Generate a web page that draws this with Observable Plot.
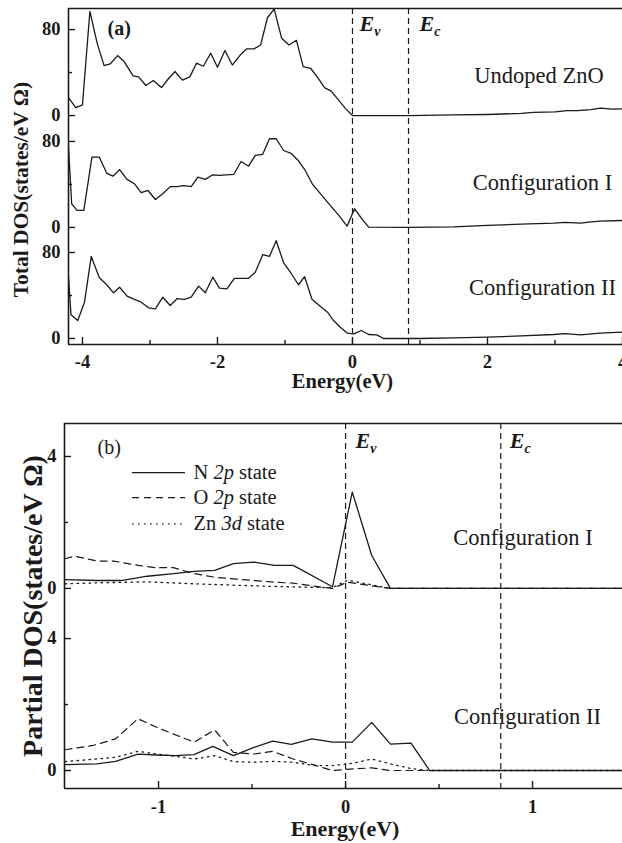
<!DOCTYPE html>
<html><head><meta charset="utf-8">
<script src="https://cdn.jsdelivr.net/npm/d3@7"></script>
<script src="https://cdn.jsdelivr.net/npm/@observablehq/plot@0.6"></script>
<style>
body{margin:0;background:#fff;}
#chart{width:622px;height:843px;position:relative;overflow:hidden;background:#fff;}
#chart svg{display:block;}
</style></head><body><div id="chart"></div>
<script>
// ---------- Panel (a): Total DOS ----------
const xTicksA = [-4, -2, 0, 2, 4];
const xTickLabelsA = ["-4", "-2", "0", "2", "4"];
const xMinorA = [-3, -1, 1, 3];
const curveNamesA = ["Undoped ZnO", "Configuration I", "Configuration II"];
const offsetsA = [207.4, 103.3, 0];
const yTickLabelsA = ["0", "80"];
const yTickValsA = [0, 80];
const yMinorValsA = [40];

const aX_undoped = [-4.21,-4.10,-4.00,-3.89,-3.78,-3.68,-3.59,-3.48,-3.38,-3.25,-3.17,-3.06,-2.95,-2.83,-2.73,-2.63,-2.52,-2.41,-2.31,-2.21,-2.10,-2.00,-1.89,-1.78,-1.67,-1.57,-1.46,-1.36,-1.26,-1.16,-1.05,-0.94,-0.83,-0.73,-0.62,-0.52,-0.41,-0.32,-0.22,-0.10,0.00,0.83,1.50,2.00,2.50,2.68,3.00,3.18,3.33,3.53,3.67,3.85,4.00];
const aY_undoped = [17,7.4,10,97,66.7,46.5,48,55.8,50,37,36,28,32.6,26,34,41,33,36,48.7,45.9,58,45,60.5,47,55.8,62,62,65.7,91,99,72,65.7,70,45.6,44,35.7,25.8,23,15.5,6.2,0,0,0.6,1,2,3,3.5,4.5,4.6,5.5,7,6,6.2];

const aX_conf1 = [-4.21,-4.16,-4.08,-3.98,-3.86,-3.75,-3.64,-3.55,-3.45,-3.34,-3.23,-3.13,-3.03,-2.92,-2.81,-2.70,-2.60,-2.50,-2.39,-2.29,-2.18,-2.07,-1.97,-1.87,-1.76,-1.65,-1.54,-1.44,-1.33,-1.23,-1.13,-1.02,-0.91,-0.80,-0.70,-0.59,-0.47,-0.33,-0.20,-0.08,0.03,0.14,0.24,0.83,1.50,2.00,2.50,2.98,3.15,3.38,3.50,3.67,4.00];
const aY_conf1 = [78,22,15.8,15.8,65.4,65.4,50.5,47.7,53.7,44.7,40.6,32.3,34.4,26,31.3,38,38,39,38,46.8,44.7,49,48.4,49,49.3,61.4,57,67,68,82.5,82.5,71.6,69,62,53,40,31,20.5,11,1.2,17.4,8,0.3,0,0.5,1.9,3,4,4.8,4,5,5.9,6.5];

const aX_conf2 = [-4.21,-4.17,-4.07,-3.97,-3.87,-3.75,-3.64,-3.54,-3.45,-3.34,-3.23,-3.13,-3.02,-2.92,-2.81,-2.70,-2.60,-2.49,-2.39,-2.28,-2.18,-2.07,-1.97,-1.86,-1.75,-1.65,-1.54,-1.44,-1.33,-1.23,-1.13,-1.02,-0.91,-0.80,-0.71,-0.60,-0.46,-0.37,-0.28,-0.18,-0.08,0.02,0.13,0.24,0.36,0.46,0.99,1.50,2.00,2.50,2.98,3.15,3.38,3.67,4.00];
const aY_conf2 = [60,22,16.7,33.8,76.3,56.5,50,42.5,47.7,39.4,36.3,33.8,28.5,27.6,38.4,30.7,37,36.3,38.4,48.7,42.5,57,46.8,46.2,56,56,56,61.7,78,76.3,91,70.4,60.7,50,57.5,36.5,29,24.5,16.7,10.5,5,4.3,7.4,3.7,3.4,0,0,0.5,1.2,2.4,3.7,4.5,3.4,5,5.9];

const bandEdges = [0, 0.83];           // Ev, Ec (eV)
const bandLabels = ["Ev", "Ec"];

// ---------- Panel (b): Partial DOS ----------
const xTicksB = [-1, 0, 1];
const xTickLabelsB = ["-1", "0", "1"];
const xMinorB = [-0.5, 0.5];
const offsetsB = [5.52, 0];   // Configuration I, Configuration II
const yTickLabelsB = ["0", "4"];
const yTickValsB = [0, 4];
const yMinorValsB = [2];
const stateNames = ["N 2p state", "O 2p state", "Zn 3d state"];

const b1X_N = [-1.5,-1.33,-1.2,-1.06,-0.92,-0.81,-0.70,-0.60,-0.49,-0.38,-0.28,-0.07,0.036,0.14,0.24,1.5];
const b1Y_N = [0.27,0.24,0.24,0.37,0.45,0.52,0.55,0.75,0.8,0.7,0.7,0.05,2.92,1.0,0,0];
const b1X_O = [-1.5,-1.45,-1.33,-1.24,-1.11,-1.02,-0.92,-0.81,-0.70,-0.60,-0.49,-0.38,-0.28,-0.13,-0.07,0.01,0.13,0.24,1.5];
const b1Y_O = [0.9,0.98,0.83,0.83,0.7,0.63,0.63,0.45,0.34,0.29,0.24,0.19,0.16,0.04,0,0.19,0.09,0,0];
const b1X_Zn = [-1.5,-1.33,-1.06,-0.81,-0.6,-0.38,-0.13,-0.07,0.01,0.13,0.24,1.5];
const b1Y_Zn = [0.14,0.17,0.2,0.14,0.1,0.06,0.03,0.02,0.25,0.12,0,0];

const b2X_N = [-1.5,-1.33,-1.23,-1.11,-1.01,-0.91,-0.81,-0.71,-0.60,-0.49,-0.39,-0.29,-0.18,-0.07,0.036,0.14,0.24,0.35,0.45,1.5];
const b2Y_N = [0.18,0.2,0.28,0.5,0.47,0.45,0.48,0.73,0.45,0.7,0.89,0.79,0.96,0.86,0.86,1.46,0.8,0.83,0,0];
const b2X_O = [-1.5,-1.35,-1.23,-1.11,-1.01,-0.90,-0.81,-0.70,-0.60,-0.49,-0.39,-0.28,-0.14,-0.07,0.04,0.14,0.24,0.45,1.5];
const b2Y_O = [0.63,0.76,0.96,1.57,1.31,1.06,0.86,1.23,0.55,0.5,0.58,0.35,0.12,0,0.05,0.08,0,0,0];
const b2X_Zn = [-1.5,-1.33,-1.23,-1.11,-1.01,-0.91,-0.81,-0.70,-0.60,-0.49,-0.39,-0.28,-0.17,-0.07,0.04,0.14,0.24,0.35,0.45,1.5];
const b2Y_Zn = [0.27,0.35,0.4,0.58,0.5,0.43,0.35,0.45,0.27,0.25,0.28,0.25,0.15,0.15,0.22,0.35,0.2,0.06,0,0];

const xLabel = "Energy(eV)";
const yLabelA = "Total DOS(states/eV Ω)";
const yLabelB = "Partial DOS(states/eV Ω)";

// ---------- helpers ----------
const serif = "Liberation Serif";
const ink = "#1a1a1a";
function series(xs, ys, off, name) { return xs.map((x, i) => ({x, y: ys[i] + off, name})); }
function withOffsets(vals, offs) { return offs.flatMap(o => vals.map(v => v + o)); }
const T = {fontFamily: serif, lineAnchor: "middle", text: d => d};

// Panel (a) geometry
const WA = 622, HA = 400, mTA = 8, mBA = 56, mLA = 68, mRA = 0;
const plotHA = HA - mTA - mBA, plotWA = WA - mLA - mRA;
const xDomainA = [-4.207, 4.0];
const yDomainA = [-5.6, 307];

const curvesA = [
  ...series(aX_undoped, aY_undoped, offsetsA[0], curveNamesA[0]),
  ...series(aX_conf1, aY_conf1, offsetsA[1], curveNamesA[1]),
  ...series(aX_conf2, aY_conf2, offsetsA[2], curveNamesA[2])
];
const yLabTicksA = withOffsets(yTickValsA, offsetsA);
const yLabTextA = offsetsA.flatMap(() => yTickLabelsA);
const yMinorA = withOffsets(yMinorValsA, offsetsA);
const annXA = [2.763, 2.815, 2.815];
const annYA = [244.8, 145.3, 46.7];

const plotA = Plot.plot({
  width: WA, height: HA, marginTop: mTA, marginBottom: mBA, marginLeft: mLA, marginRight: mRA,
  x: {domain: xDomainA},
  y: {domain: yDomainA},
  style: {fontFamily: serif, fontSize: "18px", background: "#fff", color: ink, overflow: "visible"},
  marks: [
    Plot.line(curvesA, {x: "x", y: "y", z: "name", stroke: ink, strokeWidth: 1.3, clip: true}),
    Plot.ruleX(bandEdges, {stroke: ink, strokeWidth: 1.2, strokeDasharray: "6,4"}),
    Plot.ruleX([xDomainA[0]], {stroke: ink, strokeWidth: 1.6}),
    Plot.ruleY(yDomainA, {stroke: ink, strokeWidth: 1.6}),
    Plot.tickX(xTicksA, {x: d => d, insetTop: plotHA - 7, stroke: ink, strokeWidth: 1.4}),
    Plot.tickX(xMinorA, {x: d => d, insetTop: plotHA - 4, stroke: ink, strokeWidth: 1.4}),
    Plot.tickY(yLabTicksA, {y: d => d, insetRight: plotWA - 7, stroke: ink, strokeWidth: 1.4}),
    Plot.tickY(yMinorA, {y: d => d, insetRight: plotWA - 4, stroke: ink, strokeWidth: 1.4}),
    Plot.axisX({ticks: xTicksA, tickFormat: d => xTickLabelsA[xTicksA.indexOf(d)], tickSize: 0, tickPadding: 10, fontFamily: serif, fontSize: 18.5, fontWeight: "bold", label: null}),
    Plot.axisY({ticks: yLabTicksA, tickFormat: d => yLabTextA[yLabTicksA.indexOf(d)], tickSize: 0, tickPadding: 8, fontFamily: serif, fontSize: 18.5, fontWeight: "bold", label: null}),
    Plot.text([xLabel], {...T, frameAnchor: "bottom", textAnchor: "middle", dx: -3, dy: 37, fontSize: 20.5, fontWeight: "bold"}),
    Plot.text([yLabelA], {...T, frameAnchor: "left", textAnchor: "middle", rotate: -90, dx: -47, dy: 13, fontSize: 21.5, fontWeight: "bold"}),
    Plot.text(["(a)"], {...T, frameAnchor: "top-left", textAnchor: "start", dx: 39, dy: 20.5, fontSize: 20, fontWeight: "bold"}),
    Plot.text([bandLabels[0]], {...T, x: [bandEdges[0]], frameAnchor: "top", textAnchor: "start", dx: 7, dy: 15.5, fontSize: 22, fontWeight: "bold", fontStyle: "italic"}),
    Plot.text([bandLabels[1]], {...T, x: [bandEdges[1]], frameAnchor: "top", textAnchor: "start", dx: 11, dy: 15.5, fontSize: 22, fontWeight: "bold", fontStyle: "italic"}),
    Plot.text(curveNamesA, {...T, x: annXA, y: annYA, textAnchor: "middle", fontSize: 22.5})
  ]
});

// Panel (b) geometry
const WB = 622, HB = 443, mTB = 23, mBB = 55, mLB = 64, mRB = 0;
const plotHB = HB - mTB - mBB, plotWB = WB - mLB - mRB;
const xDomainB = [-1.503, 1.481];
const yDomainB = [-0.545, 10.52];

const solidB = [...series(b1X_N, b1Y_N, offsetsB[0], "c1"), ...series(b2X_N, b2Y_N, offsetsB[1], "c2")];
const dashedB = [...series(b1X_O, b1Y_O, offsetsB[0], "c1"), ...series(b2X_O, b2Y_O, offsetsB[1], "c2")];
const dottedB = [...series(b1X_Zn, b1Y_Zn, offsetsB[0], "c1"), ...series(b2X_Zn, b2Y_Zn, offsetsB[1], "c2")];
const yLabTicksB = withOffsets(yTickValsB, offsetsB);
const yLabTextB = offsetsB.flatMap(() => yTickLabelsB);
const yMinorB = withOffsets(yMinorValsB, offsetsB);
const annTextB = ["Configuration I", "Configuration II"];
const annXB = [0.949, 0.973];
const annYB = [7.07, 1.64];
const legY = [9.03, 8.27, 7.48];
const legX1 = -1.139, legX2 = -0.856, legTX = -0.813;
const dashO = "7,5", dotZn = "1.5,4.5";

const plotB = Plot.plot({
  width: WB, height: HB, marginTop: mTB, marginBottom: mBB, marginLeft: mLB, marginRight: mRB,
  x: {domain: xDomainB},
  y: {domain: yDomainB},
  style: {fontFamily: serif, fontSize: "18px", background: "#fff", color: ink, overflow: "visible"},
  marks: [
    Plot.line(dottedB, {x: "x", y: "y", z: "name", stroke: ink, strokeWidth: 1.3, strokeDasharray: dotZn, clip: true}),
    Plot.line(dashedB, {x: "x", y: "y", z: "name", stroke: ink, strokeWidth: 1.2, strokeDasharray: dashO, clip: true}),
    Plot.line(solidB, {x: "x", y: "y", z: "name", stroke: ink, strokeWidth: 1.3, clip: true}),
    Plot.ruleX(bandEdges, {stroke: ink, strokeWidth: 1.2, strokeDasharray: "6,4"}),
    Plot.ruleX([xDomainB[0]], {stroke: ink, strokeWidth: 1.6}),
    Plot.ruleY(yDomainB, {stroke: ink, strokeWidth: 1.6}),
    Plot.tickX(xTicksB, {x: d => d, insetTop: plotHB - 7, stroke: ink, strokeWidth: 1.4}),
    Plot.tickX(xMinorB, {x: d => d, insetTop: plotHB - 4, stroke: ink, strokeWidth: 1.4}),
    Plot.tickY(yLabTicksB, {y: d => d, insetRight: plotWB - 7, stroke: ink, strokeWidth: 1.4}),
    Plot.tickY(yMinorB, {y: d => d, insetRight: plotWB - 4, stroke: ink, strokeWidth: 1.4}),
    Plot.axisX({ticks: xTicksB, tickFormat: d => xTickLabelsB[xTicksB.indexOf(d)], tickSize: 0, tickPadding: 11, fontFamily: serif, fontSize: 18.5, fontWeight: "bold", label: null}),
    Plot.axisY({ticks: yLabTicksB, tickFormat: d => yLabTextB[yLabTicksB.indexOf(d)], tickSize: 0, tickPadding: 8, fontFamily: serif, fontSize: 18.5, fontWeight: "bold", label: null}),
    Plot.text([xLabel], {...T, frameAnchor: "bottom", textAnchor: "middle", dx: 1.5, dy: 40.5, fontSize: 22, fontWeight: "bold"}),
    Plot.text([yLabelB], {...T, frameAnchor: "left", textAnchor: "middle", rotate: -90, dx: -31, dy: 0, fontSize: 28, fontWeight: "bold"}),
    Plot.text(["(b)"], {...T, frameAnchor: "top-left", textAnchor: "start", dx: 33, dy: 24, fontSize: 20}),
    Plot.text([bandLabels[0]], {...T, x: [bandEdges[0]], frameAnchor: "top", textAnchor: "start", dx: 10, dy: 17, fontSize: 22, fontWeight: "bold", fontStyle: "italic"}),
    Plot.text([bandLabels[1]], {...T, x: [bandEdges[1]], frameAnchor: "top", textAnchor: "start", dx: 9, dy: 17, fontSize: 22, fontWeight: "bold", fontStyle: "italic"}),
    Plot.text(annTextB, {...T, x: annXB, y: annYB, textAnchor: "middle", fontSize: 22.5}),
    // legend
    Plot.ruleY([legY[0]], {y: d => d, x1: legX1, x2: legX2, stroke: ink, strokeWidth: 1.3}),
    Plot.ruleY([legY[1]], {y: d => d, x1: legX1, x2: legX2, stroke: ink, strokeWidth: 1.2, strokeDasharray: dashO}),
    Plot.ruleY([legY[2]], {y: d => d, x1: legX1, x2: legX2, stroke: ink, strokeWidth: 1.3, strokeDasharray: dotZn}),
    Plot.text(stateNames, {...T, x: stateNames.map(() => legTX), y: legY, textAnchor: "start", fontSize: 20.5})
  ]
});

// rich text (subscripts / italics) as real SVG text
const NS = "http://www.w3.org/2000/svg";
const richText = {
  "Ev": [{t: "E"}, {t: "v", sub: true}],
  "Ec": [{t: "E"}, {t: "c", sub: true}],
  "N 2p state": [{t: "N "}, {t: "2p", it: true}, {t: " state"}],
  "O 2p state": [{t: "O "}, {t: "2p", it: true}, {t: " state"}],
  "Zn 3d state": [{t: "Zn "}, {t: "3d", it: true}, {t: " state"}]
};
function enrich(svg) {
  svg.querySelectorAll("text").forEach(t => {
    const parts = richText[t.textContent];
    if (!parts) return;
    while (t.firstChild) t.removeChild(t.firstChild);
    parts.forEach(p => {
      const s = document.createElementNS(NS, "tspan");
      s.textContent = p.t;
      if (p.it) s.setAttribute("font-style", "italic");
      if (p.sub) { s.setAttribute("font-size", "14"); s.setAttribute("dy", "5"); }
      t.appendChild(s);
    });
  });
}
enrich(plotA); enrich(plotB);
const chart = document.getElementById("chart");
chart.appendChild(plotA);
chart.appendChild(plotB);
</script></body></html>
